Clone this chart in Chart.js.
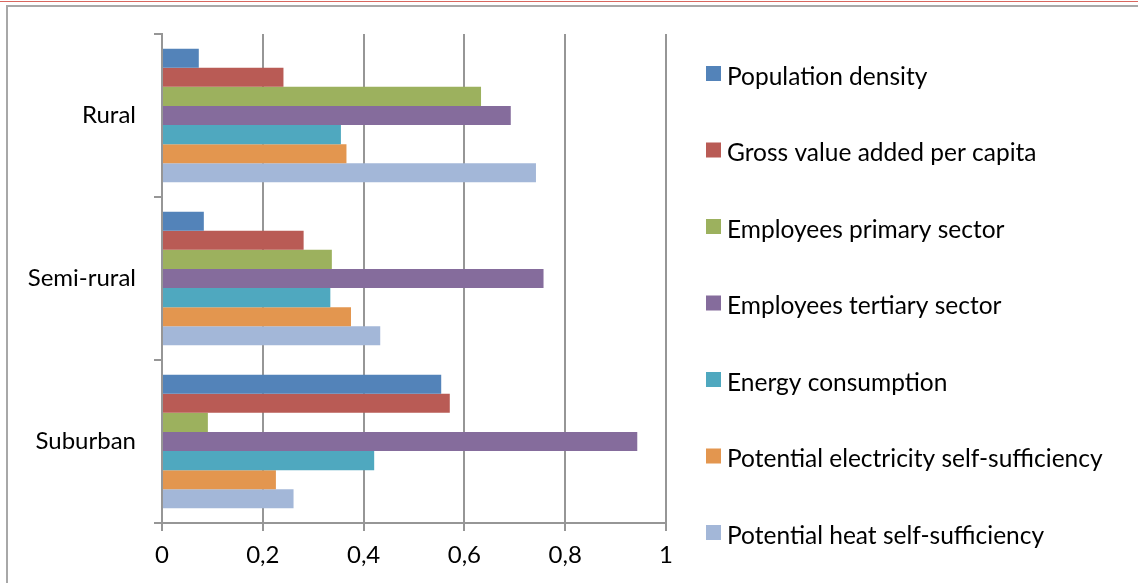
<!DOCTYPE html>
<html>
<head>
<meta charset="utf-8">
<script src="https://cdn.jsdelivr.net/npm/chart.js@4.4.0/dist/chart.umd.min.js"></script>
<style>
    html, body { margin: 0; padding: 0; background: #fff; }
    #wrap { position: relative; width: 1138px; height: 583px; overflow: hidden; }
    #topline { position: absolute; left: 0; top: 1px; width: 1138px; height: 1px; background: #d9675f; }
    #frame { position: absolute; left: 6px; top: 5px; width: 1140px; height: 600px;
             border-left: 2px solid #a8a8a8; border-top: 2px solid #a8a8a8; }
    canvas { position: absolute; left: 0; top: 0; }
</style>
</head>
<body>
<div id="wrap">
    <div id="topline"></div>
    <div id="frame"></div>
    <canvas id="barChart" width="1138" height="583"></canvas>
</div>
<script>
(function () {
    "use strict";

    var categories = ["Rural", "Semi-rural", "Suburban"];
    var seriesNames = [
        "Population density",
        "Gross value added per capita",
        "Employees primary sector",
        "Employees tertiary sector",
        "Energy consumption",
        "Potential electricity self-sufficiency",
        "Potential heat self-sufficiency"
    ];
    var populationDensity = [0.073, 0.083, 0.554];
    var grossValueAdded = [0.241, 0.281, 0.571];
    var employeesPrimary = [0.633, 0.337, 0.091];
    var employeesTertiary = [0.692, 0.757, 0.943];
    var energyConsumption = [0.355, 0.334, 0.421];
    var electricitySelfSuff = [0.366, 0.375, 0.226];
    var heatSelfSuff = [0.742, 0.433, 0.261];
    var xTickLabels = ["0", "0,2", "0,4", "0,6", "0,8", "1"];

    var seriesValues = [populationDensity, grossValueAdded, employeesPrimary,
        employeesTertiary, energyConsumption, electricitySelfSuff, heatSelfSuff];
    var colors = ["#5383b9", "#b95b55", "#9cb15e", "#856c9c", "#4fa8bf", "#e3964f", "#a3b7d8"];
    var gridColor = "#969696";

    // legend on the right, spaced out like the spreadsheet one
    var sideLegend = {
        id: "sideLegend",
        afterDraw: function (chart) {
            var ctx = chart.ctx;
            ctx.save();
            ctx.font = "24.5px Lato";
            ctx.textBaseline = "alphabetic";
            chart.data.datasets.forEach(function (ds, i) {
                var top = 66 + i * 76.5;
                ctx.fillStyle = ds.backgroundColor;
                ctx.fillRect(706, top, 15, 15);
                ctx.fillStyle = "#000";
                ctx.fillText(ds.label, 727, top + 18.5);
            });
            ctx.restore();
        }
    };

    var ctx = document.getElementById("barChart");
    var myChart = new Chart(ctx, {
        type: 'bar',
        data: {
            labels: categories,
            datasets: seriesNames.map(function (name, i) {
                return {
                    label: name,
                    data: seriesValues[i],
                    backgroundColor: colors[i],
                    borderWidth: 0,
                    categoryPercentage: 0.82,
                    barPercentage: 1.0
                };
            })
        },
        options: {
            indexAxis: 'y',
            responsive: false,
            animation: false,
            layout: { padding: { top: 34, right: 472, bottom: 0, left: 0 } },
            plugins: {
                legend: { display: false },
                tooltip: { enabled: false }
            },
            scales: {
                x: {
                    min: 0,
                    max: 1,
                    ticks: {
                        stepSize: 0.2,
                        padding: 10,
                        color: "#000",
                        font: { family: "Lato", size: 24 },
                        callback: function (value, index) { return xTickLabels[index]; }
                    },
                    grid: { color: gridColor, lineWidth: 2, tickLength: 8 },
                    border: { color: gridColor, width: 2 },
                    afterFit: function (scale) { scale.height = 60; }
                },
                y: {
                    ticks: {
                        padding: 18,
                        color: "#000",
                        font: { family: "Lato", size: 24 }
                    },
                    grid: { offset: true, drawOnChartArea: false, color: gridColor, lineWidth: 2, tickLength: 8 },
                    border: { color: gridColor, width: 2 },
                    afterFit: function (scale) { scale.width = 162; }
                }
            }
        },
        plugins: [sideLegend]
    });
})();
</script>
</body>
</html>
